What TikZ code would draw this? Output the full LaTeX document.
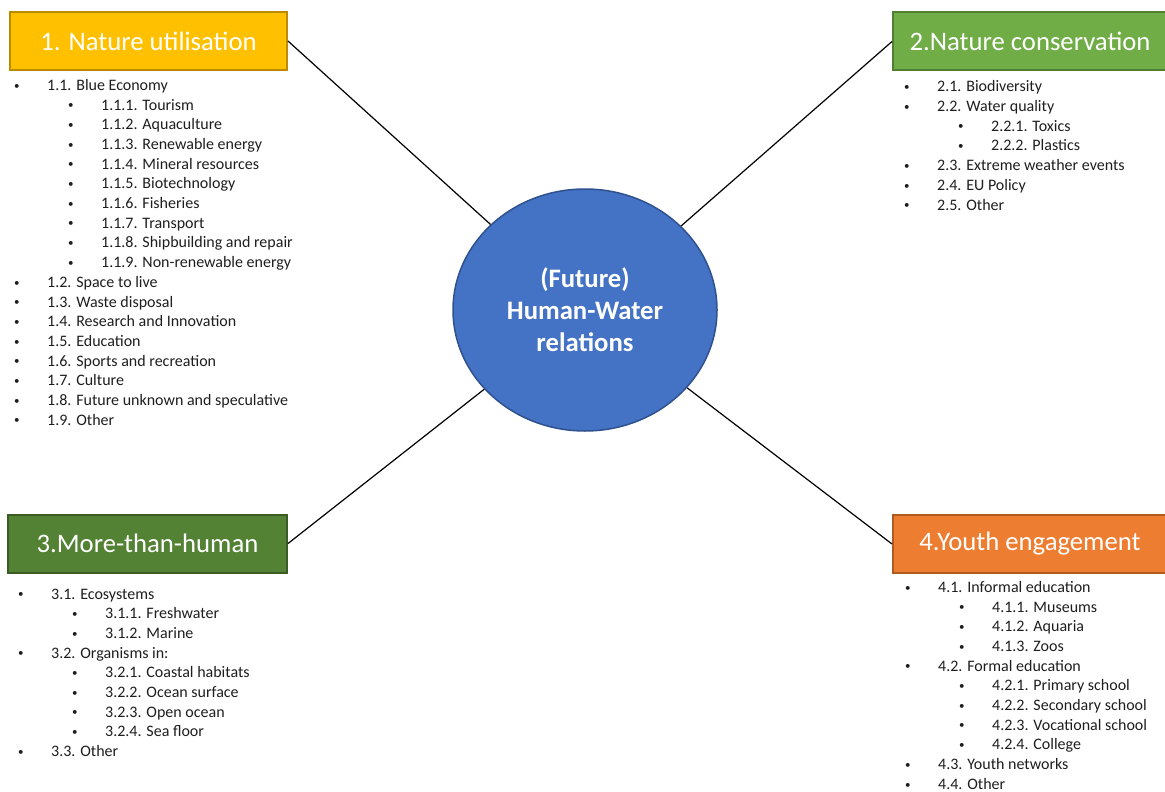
\documentclass[tikz,border=0pt]{standalone}
\usepackage{fontspec}
\setmainfont{Carlito}
\usetikzlibrary{positioning,shapes.geometric}
\definecolor{hubblue}{RGB}{68,114,196}
\definecolor{hubedge}{RGB}{47,82,143}
\definecolor{useyellow}{RGB}{255,192,0}
\definecolor{useedge}{RGB}{188,140,0}
\definecolor{consgreen}{RGB}{112,173,71}
\definecolor{consedge}{RGB}{80,126,50}
\definecolor{moregreen}{RGB}{84,130,53}
\definecolor{moreedge}{RGB}{59,92,37}
\definecolor{youthorange}{RGB}{237,125,49}
\definecolor{youthedge}{RGB}{174,90,33}
\definecolor{listtext}{RGB}{30,30,30}
\newcommand{\dotmark}{\raisebox{1.3pt}{\fontsize{11}{11}\selectfont\textbullet}}
\newcommand{\bul}[1]{\makebox[34pt][l]{\hspace*{1pt}\dotmark}#1}
\newcommand{\subbul}[1]{\hspace*{54pt}\makebox[34pt][l]{\hspace*{1pt}\dotmark}#1}
\tikzset{
  catbox/.style={draw, line width=2pt, minimum height=58pt, inner sep=0pt,
               text=white, font=\fontsize{26.7}{32}\selectfont},
  hub/.style={ellipse, draw=hubedge, fill=hubblue, line width=1.5pt, inner sep=0pt,
               minimum width=264pt, minimum height=242pt, align=center,
               text=white, font=\fontsize{26.7}{32}\selectfont\bfseries},
  itemlist/.style={inner sep=0pt, align=left, text=listtext, font=\fontsize{16}{19.7}\selectfont},
  link/.style={line width=1.2pt, draw=black},
}
\begin{document}
\begin{tikzpicture}[x=1pt, y=-1pt]
    \useasboundingbox (0,0) rectangle (1165,792);
    \node[hub] (hw) at (585,310) {(Future)\\ Human-Water\\ relations};
    \node[catbox, fill=useyellow, draw=useedge, minimum width=277pt] (nu) at (148.5,41) {1. Nature utilisation};
    \node[catbox, fill=consgreen, draw=consedge, minimum width=274pt] (nc) at (1030,41.5) {2.Nature conservation};
    \node[catbox, fill=moregreen, draw=moreedge, minimum width=279pt] (mh) at (147.5,543.5) {3.More-than-human};
    \node[catbox, fill=youthorange, draw=youthedge, minimum width=274pt] (ye) at (1030,544) {4.Youth engagement};
    \draw[link] (nu.east)--(hw);\draw[link] (nc.west)--(hw);\draw[link] (mh.east)--(hw);\draw[link] (ye.west)--(hw);
    \node[itemlist, below right=8pt and 4pt of nu.south west] (nulist) {\bul{1.1. Blue Economy}\\
      \subbul{1.1.1. Tourism}\\ \subbul{1.1.2. Aquaculture}\\ \subbul{1.1.3. Renewable energy}\\
      \subbul{1.1.4. Mineral resources}\\ \subbul{1.1.5. Biotechnology}\\ \subbul{1.1.6. Fisheries}\\
      \subbul{1.1.7. Transport}\\ \subbul{1.1.8. Shipbuilding and repair}\\ \subbul{1.1.9. Non-renewable energy}\\
      \bul{1.2. Space to live}\\ \bul{1.3. Waste disposal}\\ \bul{1.4. Research and Innovation}\\
      \bul{1.5. Education}\\ \bul{1.6. Sports and recreation}\\ \bul{1.7. Culture}\\
      \bul{1.8. Future unknown and speculative}\\ \bul{1.9. Other}};
    \node[itemlist, below right=9pt and 11pt of nc.south west] (nclist) {\bul{2.1. Biodiversity}\\
      \bul{2.2. Water quality}\\ \subbul{2.2.1. Toxics}\\ \subbul{2.2.2. Plastics}\\
      \bul{2.3. Extreme weather events}\\ \bul{2.4. EU Policy}\\ \bul{2.5. Other}};
    \node[itemlist, below right=15pt and 10pt of mh.south west] (mhlist) {\bul{3.1. Ecosystems}\\
      \subbul{3.1.1. Freshwater}\\ \subbul{3.1.2. Marine}\\ \bul{3.2. Organisms in:}\\
      \subbul{3.2.1. Coastal habitats}\\ \subbul{3.2.2. Ocean surface}\\ \subbul{3.2.3. Open ocean}\\
      \subbul{3.2.4. Sea floor}\\ \bul{3.3. Other}};
    \node[itemlist, below right=7pt and 12pt of ye.south west] (yelist) {\bul{4.1. Informal education}\\
      \subbul{4.1.1. Museums}\\ \subbul{4.1.2. Aquaria}\\ \subbul{4.1.3. Zoos}\\
      \bul{4.2. Formal education}\\ \subbul{4.2.1. Primary school}\\ \subbul{4.2.2. Secondary school}\\
      \subbul{4.2.3. Vocational school}\\ \subbul{4.2.4. College}\\
      \bul{4.3. Youth networks}\\ \bul{4.4. Other}};
  \end{tikzpicture}
\end{document}
